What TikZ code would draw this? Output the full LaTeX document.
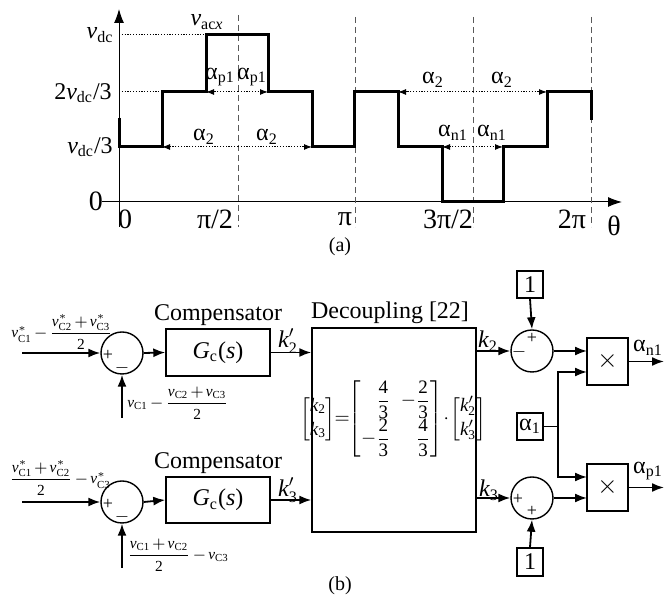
\documentclass[tikz,border=0pt]{standalone}
\usepackage{fix-cm}
\usepackage{amsmath}
\usepackage{mathtools}
\usepackage{fontspec}
\setmainfont{Liberation Serif}
\usetikzlibrary{arrows.meta}
\newcommand{\vv}{\textit{v}}
\newcommand{\ik}{\textit{k}}
\newcommand{\tightmath}{\medmuskip=2mu\relax}
\begin{document}
\begin{tikzpicture}[x=0.5pt,y=-0.5pt,
  wave/.style={line width=1.5pt, line join=miter},
  axisline/.style={line width=0.5pt},
  guide/.style={gray!70!black, line width=0.5pt, dash pattern=on 3pt off 2pt},
  dotline/.style={line width=0.5pt, dash pattern=on 0.6pt off 0.8pt},
  darr/.style={dotline, -{Latex[length=4pt,width=3pt]}},
  big/.style={font=\fontsize{12}{14}\selectfont, inner sep=0pt},
  tick/.style={font=\fontsize{14}{16}\selectfont, inner sep=0pt},
  lab/.style={font=\fontsize{10}{12}\selectfont, inner sep=0pt},
  small/.style={font=\fontsize{7.7}{9}\selectfont, inner sep=0pt},
  sgn/.style={font=\fontsize{9}{10}\selectfont, inner sep=0pt},
  blk/.style={draw, line width=0.7pt, inner sep=0pt},
  sumc/.style={draw, circle, line width=0.7pt, minimum size=21pt, inner sep=0pt},
  sig/.style={line width=0.9pt, -{Latex[length=6pt,width=4.5pt]}},
  plain/.style={line width=0.9pt}
]
\useasboundingbox (0,0) rectangle (665,608);

% ---------------- (a) ----------------
\coordinate (yb) at (119,227);
\coordinate (yt) at (119,9);
\coordinate (xl) at (102,202);
\coordinate (xr) at (622,202);
\draw[axisline,-{Latex[length=7pt,width=5pt]}] (yb) -- (yt);
\draw[axisline,-{Latex[length=7pt,width=5pt]}] (xl) -- (xr);

\foreach \x/\t in {238/15,355/17,473/17,591/17}
  \draw[guide] (\x,\t) -- (\x,227);

\draw[dotline] (119,35) -- (206,35);
\draw[dotline] (119,92) -- (162,92);

\draw[darr] (238,92) -- (206,92);
\draw[darr] (238,92) -- (268,92);
\draw[darr] (238,147) -- (162,147);
\draw[darr] (238,147) -- (312,147);
\draw[darr] (473,92) -- (398,92);
\draw[darr] (473,92) -- (547,92);
\draw[darr] (473,147) -- (442,147);
\draw[darr] (473,147) -- (503,147);

\draw[wave] (119,118) -- (119,147) -- (162,147) -- (162,92) -- (206,92) -- (206,35)
  -- (268,35) -- (268,92) -- (312,92) -- (312,147) -- (354,147) -- (354,92)
  -- (398,92) -- (398,147) -- (442,147) -- (442,202) -- (503,202) -- (503,147)
  -- (547,147) -- (547,92) -- (591,92) -- (591,120);

\node[big] (lvdc) at (100,35) {\vv\textsubscript{dc}};
\node[big] (l2v) at (83,93) {2\vv\textsubscript{dc}/3};
\node[big] (l1v) at (90,147) {\vv\textsubscript{dc}/3};
\node[tick] (lz) at (96,201) {0};
\node[big] (vacx) at (207,22) {\vv\textsubscript{ac\textit{x}}};

\node[tick] (t0) at (125,219) {0};
\node[tick] (t1) at (215,219) {π/2};
\node[tick] (t2) at (345,219) {π};
\node[tick] (t3) at (448,219) {3π/2};
\node[tick] (t4) at (572,219) {2π};
\node[tick] (th) at (614,226) {θ};

\node[big] (ap1a) at (220,77) {α\textsubscript{p1}};
\node[big] (ap1b) at (252,77) {α\textsubscript{p1}};
\node[big] (a2a) at (204,137) {α\textsubscript{2}};
\node[big] (a2b) at (267,137) {α\textsubscript{2}};
\node[big] (a2c) at (433,80) {α\textsubscript{2}};
\node[big] (a2d) at (502,80) {α\textsubscript{2}};
\node[big] (an1a) at (453,133) {α\textsubscript{n1}};
\node[big] (an1b) at (492,133) {α\textsubscript{n1}};

\node[lab] (capa) at (340,247) {(a)};

% ---------------- (b) ----------------
\node[sumc] (s1) at (122,353) {};
\node[sumc] (s2) at (122,502) {};
\node[sumc] (s3) at (532,351) {};
\node[sumc] (s4) at (532,498) {};

\node[sgn] (s1p) at (108,355) {+};
\node[sgn] (s1m) at (122,368) {$-$};
\node[sgn] (s2p) at (108,504) {+};
\node[sgn] (s2m) at (122,517) {$-$};
\node[sgn] (s3p) at (532,338) {+};
\node[sgn] (s3m) at (519,352) {$-$};
\node[sgn] (s4p) at (518,499) {+};
\node[sgn] (s4q) at (532,511) {+};

\node[blk, minimum width=52pt, minimum height=23.5pt] (g1) at (218,352.5) {\fontsize{12}{14}\selectfont\textit{G}\textsubscript{c}(\textit{s})};
\node[blk, minimum width=52pt, minimum height=23pt] (g2) at (218,500) {\fontsize{12}{14}\selectfont\textit{G}\textsubscript{c}(\textit{s})};
\node[big] (c1) at (218,315) {Compensator};
\node[big] (c2) at (218,463) {Compensator};

\node[blk, minimum width=82pt, minimum height=102pt] (dec) at (394,430) {};
\node[big] (dect) at (390,313) {Decoupling [22]};
\node[inner sep=0pt, font=\fontsize{9.5}{11}\selectfont] (mat) at (393,419)
 {\setlength{\arraycolsep}{1.2pt}$\begin{bmatrix}\ik_{\text{2}}\\[1pt] \ik_{\text{3}}\end{bmatrix}\!\!=\!\!
   \begin{bmatrix*}[r]\dfrac{\text{4}}{\text{3}} & \;-\dfrac{\text{2}}{\text{3}}\\[1pt]
   -\dfrac{\text{2}}{\text{3}} & \dfrac{\text{4}}{\text{3}}\end{bmatrix*}\!\cdot\!
   \begin{bmatrix}\ik'_{\text{2}}\\[1pt] \ik'_{\text{3}}\end{bmatrix}$};

\node[blk, minimum width=13pt, minimum height=13.5pt] (one1) at (530,284.5) {\fontsize{12}{14}\selectfont 1};
\node[blk, minimum width=13pt, minimum height=13.5pt] (al1) at (530,426.5) {\fontsize{12}{14}\selectfont α\textsubscript{1}};
\node[blk, minimum width=13pt, minimum height=14pt] (one2) at (530,562) {\fontsize{12}{14}\selectfont 1};

\node[blk, minimum width=20.5pt, minimum height=23.5pt] (m1) at (607.5,361.5) {\fontsize{13}{14}\selectfont$\times$};
\node[blk, minimum width=20.5pt, minimum height=23.5pt] (m2) at (607.5,487.5) {\fontsize{13}{14}\selectfont$\times$};

\coordinate (in1) at (22,353);
\coordinate (fb1) at (122,418);
\coordinate (in2) at (22,502);
\coordinate (fb2) at (122,568);
\coordinate (m1a) at (587,351);
\coordinate (m1b) at (587,372);
\coordinate (m2a) at (587,477);
\coordinate (m2b) at (587,498);
\coordinate (j) at (558,426.5);
\coordinate (out1) at (664,361.5);
\coordinate (out2) at (664,487.5);

\draw[sig] (in1) -- (s1.west);
\draw[sig] (fb1) -- (s1.south);
\draw[sig] (s1.east) -- (g1.west);
\draw[sig] (g1.east) -- (g1.east -| dec.west);
\draw[sig] (in2) -- (s2.west);
\draw[sig] (fb2) -- (s2.south);
\draw[sig] (s2.east) -- (g2.west);
\draw[sig] (g2.east) -- (g2.east -| dec.west);

\draw[sig] (dec.east |- s3.west) -- (s3.west);
\draw[sig] (dec.east |- s4.west) -- (s4.west);
\draw[sig] (one1.south) -- (s3.north);
\draw[sig] (one2.north) -- (s4.south);
\draw[sig] (s3.east) -- (m1a);
\draw[sig] (s4.east) -- (m2b);
\draw[plain] (al1.east) -- (j);
\draw[sig] (j) |- (m1b);
\draw[sig] (j) |- (m2a);
\draw[sig] (m1.east) -- (out1);
\draw[sig] (m2.east) -- (out2);

\node[big] (k2p) at (288,341) {$\ik^{\prime}_{\text{2}}$};
\node[big] (k3p) at (288,490) {$\ik^{\prime}_{\text{3}}$};
\node[big] (k2) at (488,341) {$\ik_{\text{2}}$};
\node[big] (k3) at (489,490) {$\ik_{\text{3}}$};
\node[big] (an1) at (648,348) {α\textsubscript{n1}};
\node[big] (ap1) at (648,471) {α\textsubscript{p1}};

\node[small] (lin1) at (62,332) {\tightmath$\vv^{*}_{\text{C1}}-\dfrac{\vv^{*}_{\text{C2}}+\vv^{*}_{\text{C3}}}{\text{2}}$};
\node[small, anchor=west] (lfb1) at (127,403) {\tightmath$\vv_{\text{C1}}-\dfrac{\vv_{\text{C2}}+\vv_{\text{C3}}}{\text{2}}$};
\node[small, anchor=west] (lin2) at (9,478) {\tightmath$\dfrac{\vv^{*}_{\text{C1}}+\vv^{*}_{\text{C2}}}{\text{2}}-\vv^{*}_{\text{C3}}$};
\node[small, anchor=west] (lfb2) at (127,555) {\tightmath$\dfrac{\vv_{\text{C1}}+\vv_{\text{C2}}}{\text{2}}-\vv_{\text{C3}}$};

\node[lab] (capb) at (340,586) {(b)};
\end{tikzpicture}
\end{document}
